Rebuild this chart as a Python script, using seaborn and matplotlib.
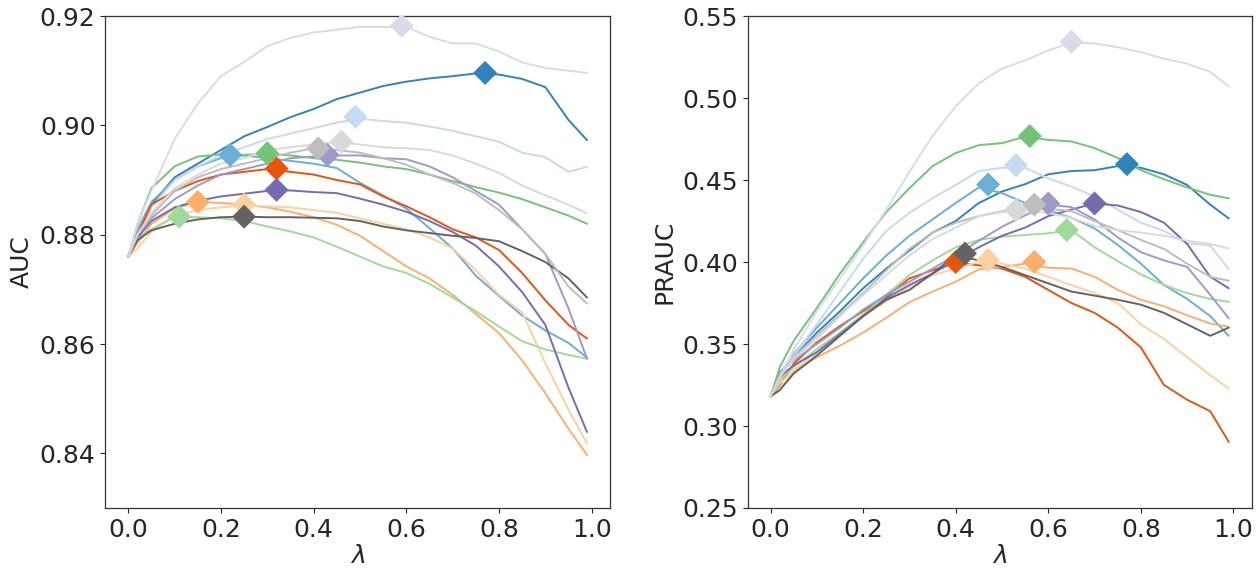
import matplotlib
matplotlib.use('Agg')
import matplotlib.pyplot as plt
import pandas as pd
import seaborn as sns
import numpy as np


# lambda grid shared by every curve
lam = [0.0, 0.02, 0.05, 0.10, 0.15, 0.20, 0.25, 0.30, 0.35, 0.40, 0.45,
       0.50, 0.55, 0.60, 0.65, 0.70, 0.75, 0.80, 0.85, 0.90, 0.95, 0.99]

runs = ['r0', 'r1', 'r2', 'r3', 'r4', 'r5', 'r6',
        'r7', 'r8', 'r9', 'r10', 'r11', 'r12', 'r13']

# AUC curves (left panel)
auc = {
    'r0': [0.876, 0.880, 0.8855, 0.8905, 0.893, 0.8955, 0.898, 0.8997, 0.9015, 0.903, 0.9048,
           0.906, 0.9072, 0.908, 0.9086, 0.909, 0.9095, 0.9093, 0.9085, 0.907, 0.901, 0.8973],
    'r1': [0.876, 0.881, 0.886, 0.890, 0.8925, 0.894, 0.8945, 0.894, 0.8935, 0.893, 0.8922,
           0.8895, 0.8872, 0.8848, 0.8812, 0.8775, 0.8725, 0.8688, 0.8652, 0.8625, 0.8602, 0.8575],
    'r2': [0.876, 0.880, 0.885, 0.890, 0.8925, 0.8945, 0.896, 0.8975, 0.8985, 0.8995, 0.9005,
           0.9012, 0.9008, 0.9005, 0.8998, 0.899, 0.898, 0.897, 0.895, 0.8942, 0.8915, 0.8924],
    'r3': [0.876, 0.880, 0.8855, 0.888, 0.8898, 0.891, 0.8915, 0.892, 0.8915, 0.891, 0.890,
           0.8892, 0.887, 0.8852, 0.8832, 0.881, 0.8795, 0.8772, 0.873, 0.868, 0.8635, 0.861],
    'r4': [0.876, 0.8785, 0.882, 0.8848, 0.886, 0.8858, 0.8855, 0.885, 0.8842, 0.8832, 0.8818,
           0.8798, 0.877, 0.8742, 0.872, 0.869, 0.8655, 0.862, 0.857, 0.851, 0.8445, 0.8397],
    'r5': [0.876, 0.8775, 0.8805, 0.8835, 0.8845, 0.885, 0.8853, 0.8852, 0.885, 0.8845, 0.884,
           0.883, 0.882, 0.881, 0.8795, 0.8775, 0.8735, 0.869, 0.8658, 0.8565, 0.848, 0.8418],
    'r6': [0.876, 0.882, 0.8885, 0.8925, 0.8943, 0.8947, 0.8946, 0.8948, 0.8945, 0.894, 0.8937,
           0.8932, 0.8925, 0.892, 0.891, 0.8898, 0.8887, 0.8877, 0.8865, 0.885, 0.8835, 0.882],
    'r7': [0.876, 0.8795, 0.881, 0.8833, 0.8832, 0.883, 0.8825, 0.8815, 0.8806, 0.8795, 0.8778,
           0.876, 0.8742, 0.873, 0.871, 0.8685, 0.866, 0.8632, 0.8605, 0.859, 0.858, 0.8573],
    'r8': [0.876, 0.8795, 0.8825, 0.885, 0.8862, 0.887, 0.8875, 0.888, 0.8881, 0.8878, 0.8876,
           0.8866, 0.8855, 0.8842, 0.8825, 0.8805, 0.878, 0.8742, 0.8695, 0.8635, 0.852, 0.8439],
    'r9': [0.876, 0.880, 0.883, 0.8865, 0.889, 0.891, 0.892, 0.893, 0.894, 0.8943, 0.8945,
           0.8945, 0.894, 0.8938, 0.8925, 0.8905, 0.888, 0.8855, 0.881, 0.8765, 0.8665, 0.8573],
    'r10': [0.876, 0.882, 0.888, 0.8975, 0.904, 0.909, 0.9116, 0.9145, 0.916, 0.917, 0.9175,
            0.918, 0.918, 0.918, 0.9162, 0.915, 0.915, 0.9135, 0.9115, 0.9105, 0.910, 0.9096],
    'r11': [0.876, 0.879, 0.8808, 0.882, 0.8828, 0.8832, 0.8833, 0.8832, 0.8832, 0.8831, 0.883,
            0.8825, 0.8815, 0.8808, 0.8803, 0.8798, 0.8794, 0.8788, 0.877, 0.875, 0.872, 0.8685],
    'r12': [0.876, 0.880, 0.8835, 0.888, 0.8905, 0.892, 0.893, 0.894, 0.895, 0.8958, 0.8955,
            0.895, 0.894, 0.8928, 0.891, 0.8895, 0.8875, 0.8845, 0.881, 0.8765, 0.8705, 0.8674],
    'r13': [0.876, 0.880, 0.884, 0.8885, 0.891, 0.893, 0.894, 0.8955, 0.896, 0.8965, 0.897,
            0.8965, 0.896, 0.8958, 0.8955, 0.8945, 0.893, 0.8913, 0.889, 0.8872, 0.8855, 0.8839],
}

# PRAUC curves (right panel)
prauc = {
    'r0': [0.318, 0.330, 0.342, 0.357, 0.370, 0.384, 0.396, 0.407, 0.418, 0.425, 0.436,
           0.443, 0.4475, 0.4535, 0.4555, 0.456, 0.4585, 0.4575, 0.4535, 0.447, 0.435, 0.4266],
    'r1': [0.318, 0.332, 0.344, 0.360, 0.375, 0.390, 0.404, 0.416, 0.426, 0.436, 0.4455,
           0.442, 0.436, 0.4315, 0.427, 0.4205, 0.4105, 0.399, 0.386, 0.3775, 0.367, 0.355],
    'r2': [0.318, 0.332, 0.343, 0.362, 0.382, 0.402, 0.419, 0.430, 0.439, 0.447, 0.4555,
           0.4575, 0.4575, 0.451, 0.446, 0.440, 0.432, 0.424, 0.419, 0.4115, 0.410, 0.3957],
    'r3': [0.318, 0.325, 0.338, 0.351, 0.361, 0.370, 0.379, 0.390, 0.395, 0.3995, 0.398,
           0.396, 0.391, 0.383, 0.375, 0.369, 0.360, 0.348, 0.325, 0.316, 0.309, 0.2903],
    'r4': [0.318, 0.322, 0.333, 0.342, 0.349, 0.357, 0.366, 0.3755, 0.382, 0.388, 0.3955,
           0.397, 0.399, 0.3965, 0.396, 0.391, 0.383, 0.377, 0.373, 0.3675, 0.3625, 0.3605],
    'r5': [0.318, 0.326, 0.334, 0.345, 0.357, 0.367, 0.376, 0.385, 0.392, 0.396, 0.400,
           0.399, 0.396, 0.391, 0.386, 0.381, 0.375, 0.362, 0.353, 0.342, 0.331, 0.3228],
    'r6': [0.318, 0.336, 0.352, 0.372, 0.393, 0.412, 0.4305, 0.445, 0.4585, 0.4665, 0.4713,
           0.4725, 0.4765, 0.4745, 0.4735, 0.4695, 0.4635, 0.456, 0.4505, 0.4455, 0.441, 0.4388],
    'r7': [0.318, 0.328, 0.336, 0.347, 0.357, 0.368, 0.380, 0.392, 0.401, 0.409, 0.4135,
           0.4155, 0.4165, 0.4175, 0.4195, 0.409, 0.4005, 0.3925, 0.386, 0.381, 0.3775, 0.3757],
    'r8': [0.318, 0.330, 0.337, 0.345, 0.356, 0.367, 0.378, 0.386, 0.393, 0.401, 0.409,
           0.416, 0.421, 0.428, 0.432, 0.4357, 0.4345, 0.4305, 0.424, 0.411, 0.391, 0.384],
    'r9': [0.318, 0.333, 0.340, 0.350, 0.360, 0.371, 0.380, 0.388, 0.396, 0.404, 0.413,
           0.4215, 0.4285, 0.435, 0.4335, 0.426, 0.415, 0.406, 0.401, 0.397, 0.380, 0.3656],
    'r10': [0.318, 0.330, 0.3465, 0.370, 0.390, 0.410, 0.432, 0.455, 0.477, 0.495, 0.509,
            0.518, 0.523, 0.529, 0.534, 0.5333, 0.531, 0.528, 0.524, 0.521, 0.516, 0.507],
    'r11': [0.318, 0.322, 0.332, 0.343, 0.355, 0.367, 0.377, 0.383, 0.393, 0.404, 0.401,
            0.397, 0.392, 0.387, 0.382, 0.3795, 0.377, 0.374, 0.369, 0.362, 0.355, 0.360],
    'r12': [0.318, 0.330, 0.342, 0.355, 0.368, 0.381, 0.395, 0.408, 0.418, 0.424, 0.428,
            0.431, 0.4335, 0.4325, 0.431, 0.425, 0.4195, 0.4135, 0.408, 0.399, 0.391, 0.3886],
    'r13': [0.318, 0.330, 0.341, 0.353, 0.367, 0.380, 0.392, 0.404, 0.414, 0.421, 0.428,
            0.4305, 0.431, 0.430, 0.427, 0.422, 0.4195, 0.418, 0.416, 0.413, 0.411, 0.4083],
}

# best lambda and score of each run (diamond markers)
best_lam_auc = [0.77, 0.22, 0.49, 0.32, 0.15, 0.25, 0.30, 0.11, 0.32, 0.43, 0.59, 0.25, 0.41, 0.46]
best_auc = [0.9096, 0.8946, 0.9016, 0.8921, 0.8860, 0.8855, 0.8949, 0.8833, 0.8882, 0.8946,
            0.9182, 0.8833, 0.8958, 0.8970]
best_lam_prauc = [0.77, 0.47, 0.53, 0.40, 0.57, 0.47, 0.56, 0.64, 0.70, 0.60, 0.65, 0.42, 0.57, 0.53]
best_prauc = [0.4597, 0.4473, 0.4591, 0.4000, 0.4001, 0.4012, 0.4768, 0.4195, 0.4357, 0.4357,
              0.5343, 0.4052, 0.4350, 0.4317]


def panel(ax, curves, best_x, best_y, colors, ylabel):
    ''' draws all runs of one metric with a diamond at the best lambda'''

    df = pd.DataFrame([(r, x, v) for r in runs for x, v in zip(lam, curves[r])],
                      columns=['run', 'lam', 'score'])
    sns.lineplot(data=df, x='lam', y='score', hue='run', palette=colors,
                 linewidth=1.4, legend=False, ax=ax)
    best = pd.DataFrame({'run': runs, 'lam': best_x, 'score': best_y})
    sns.scatterplot(data=best, x='lam', y='score', hue='run', palette=colors,
                    marker='D', s=150, linewidth=0, legend=False, ax=ax, zorder=5)
    ax.set_xlabel(r'$\lambda$', fontsize=18, labelpad=2)
    ax.set_ylabel(ylabel, fontsize=18)
    ax.set_xticks([0.0, 0.2, 0.4, 0.6, 0.8, 1.0])
    ax.tick_params(labelsize=18, length=3.5)


def main():
    sns.set_style('ticks')
    plt.rcParams['font.family'] = ['DejaVu Sans']

    pal = sns.color_palette('tab20c', 20)
    picks = [0, 1, 3, 4, 6, 7, 9, 10, 12, 13, 15, 16, 18, 19]
    colors = {r: pal[i] for r, i in zip(runs, picks)}

    fig = plt.figure(figsize=(12.6, 5.74), dpi=100)
    ax1 = fig.add_axes([0.0836, 0.115, 0.4005, 0.857])
    ax2 = fig.add_axes([0.5934, 0.115, 0.4, 0.857])

    panel(ax1, auc, best_lam_auc, best_auc, colors, 'AUC')
    ax1.set_ylim(0.83, 0.92)
    ax1.set_yticks([0.84, 0.86, 0.88, 0.90, 0.92])

    panel(ax2, prauc, best_lam_prauc, best_prauc, colors, 'PRAUC')
    ax2.set_ylim(0.25, 0.55)
    ax2.set_yticks([0.25, 0.30, 0.35, 0.40, 0.45, 0.50, 0.55])

    for ax in (ax1, ax2):
        ax.set_xlim(-0.0495, 1.0395)
        for s in ax.spines.values():
            s.set_linewidth(0.9)
            s.set_color('#333333')

    fig.savefig('out.png', dpi=100)


if __name__ == '__main__':
    main()
